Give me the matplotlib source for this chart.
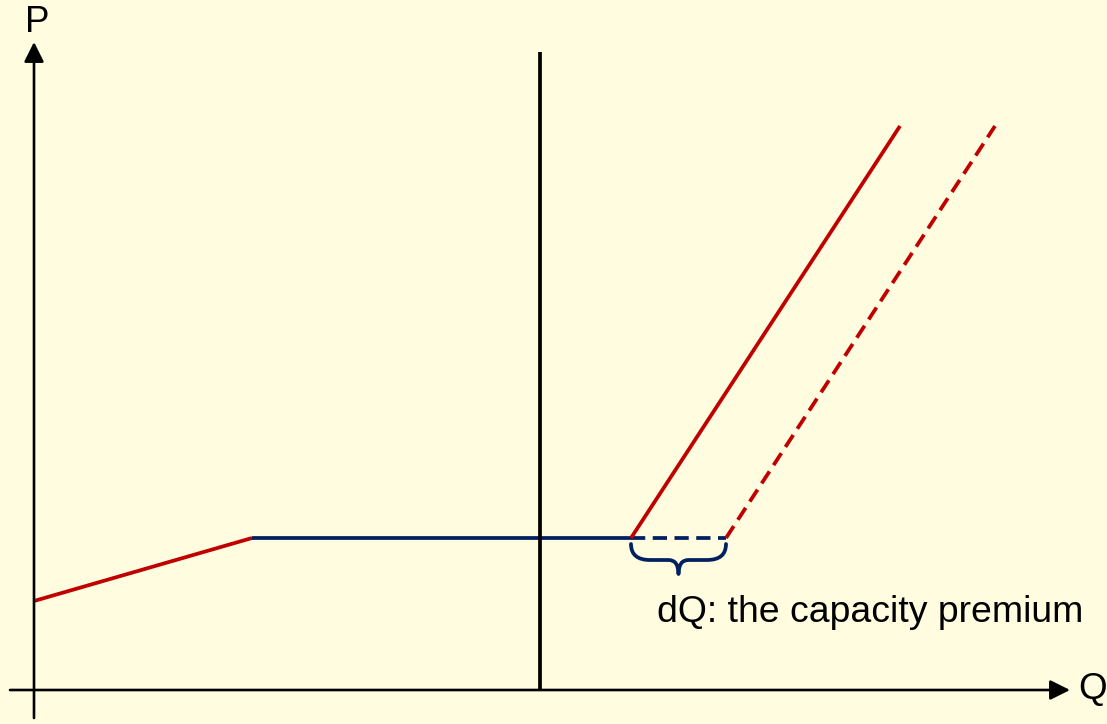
import matplotlib
matplotlib.use("Agg")
import matplotlib.pyplot as plt
from matplotlib.path import Path
from matplotlib.patches import PathPatch

# Data (Q, P), origin at axis crossing
low_supply_q = [0, 218]
low_supply_p = [89, 152]
flat_q = [218, 597]
flat_p = [152, 152]
flat_ext_q = [597, 692]
flat_ext_p = [152, 152]
steep_q = [597, 866]
steep_p = [152, 564]
steep_shift_q = [692, 961]
steep_shift_p = [152, 564]
demand_q = [506, 506]
demand_p = [0, 638]
brace_range = [597, 692]
label_text = "dQ: the capacity premium"

RED = "#C00000"
NAVY = "#002060"
BG = "#FFFCDF"
FONT = ["Liberation Sans", "DejaVu Sans"]

fig = plt.figure(figsize=(11.07, 7.24), dpi=100, facecolor=BG)
ax = fig.add_axes([0, 0, 1, 1])
ax.set_facecolor(BG)
ax.set_xlim(-34, 1073)
ax.set_ylim(-34, 690)
ax.axis("off")

lw = 2.7
ax.plot(low_supply_q, low_supply_p, color=RED, lw=lw, solid_capstyle="butt")
ax.plot(flat_q, flat_p, color=NAVY, lw=lw, solid_capstyle="butt")
ax.plot(flat_ext_q, flat_ext_p, color=NAVY, lw=lw, ls=(0, (3.8, 2.0)))
ax.plot(steep_q, steep_p, color=RED, lw=lw, solid_capstyle="butt")
ax.plot(steep_shift_q, steep_shift_p, color=RED, lw=lw, ls=(0, (3.8, 2.0)))
ax.plot(demand_q, demand_p, color="black", lw=lw, solid_capstyle="butt")

# Axes arrows
ax.annotate("", xy=(0, 648), xytext=(0, -28),
            arrowprops=dict(arrowstyle="-|>", lw=1.9, color="black",
                            mutation_scale=30, shrinkA=0, shrinkB=0))
ax.annotate("", xy=(1036, 0), xytext=(-24, 0),
            arrowprops=dict(arrowstyle="-|>", lw=1.9, color="black",
                            mutation_scale=30, shrinkA=0, shrinkB=0))
ax.text(3, 667, "P", fontsize=26.5, family=FONT, ha="center", va="center")
ax.text(1059, 0, "Q", fontsize=26.5, family=FONT, ha="center", va="center")

# Brace
x0, x1 = brace_range
xm = (x0 + x1) / 2
top, mid, tip = 146, 130, 116
verts = [
    (x0, top), (x0, mid), (x0 + 19, mid),
    (xm - 10, mid), (xm, mid), (xm, tip),
    (xm, mid), (xm + 10, mid),
    (x1 - 19, mid), (x1, mid), (x1, top),
]
codes = [Path.MOVETO, Path.CURVE3, Path.CURVE3,
         Path.LINETO, Path.CURVE3, Path.CURVE3,
         Path.CURVE3, Path.CURVE3,
         Path.LINETO, Path.CURVE3, Path.CURVE3]
ax.add_patch(PathPatch(Path(verts, codes), fill=False, edgecolor=NAVY, lw=2.7,
                       capstyle="round", joinstyle="round"))

ax.text(623, 78, label_text, fontsize=26.9, family=FONT, ha="left", va="center")

fig.savefig("out.png", dpi=100, facecolor=BG)
